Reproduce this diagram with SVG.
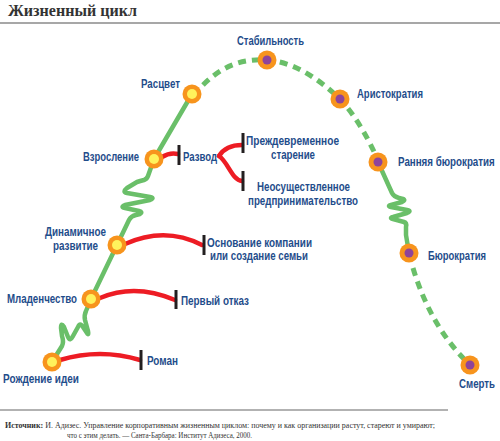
<svg xmlns="http://www.w3.org/2000/svg" width="500" height="441" viewBox="0 0 500 441">
<style>
.lbl{font-family:"Liberation Sans",Arial,sans-serif;font-weight:bold;font-size:12.5px;fill:#1f4d8b}
.g{fill:none;stroke:#6abf69;stroke-width:4.5;stroke-linecap:round;stroke-linejoin:round}
.gd{fill:none;stroke:#6abf69;stroke-width:5;stroke-dasharray:8 6}
.r{fill:none;stroke:#ed1c24;stroke-width:4.5;stroke-linecap:round}
.bar{stroke:#231f20;stroke-width:3}
.ring{fill:#f7941d}
.y{fill:#fff25c}
.p{fill:#8e449a}
.src{font-family:"Liberation Serif","Times New Roman",serif;font-size:8px;fill:#333}
</style>
<rect width="500" height="441" fill="#fff"/>
<text x="8" y="16" font-family="Liberation Serif,serif" font-weight="bold" font-size="17" fill="#333" textLength="129" lengthAdjust="spacingAndGlyphs">Жизненный цикл</text>
<line x1="0" y1="23" x2="500" y2="23" stroke="#8a8a8a" stroke-width="1.5"/>

<g id="connectors">
<path class="g" d="M52,362 L62,346 Q64,342 62,336 L61,328 Q61,322 64,327 L68,337 Q70,342 73,336 L78,327 Q80,322 83,327 L87,333 Q89,336 88,331 L85,320 Q84,315 86,311 L91,299"/>
<line class="g" x1="91" y1="299" x2="117" y2="245"/>
<path class="g" d="M117,245 L129,220 Q131,216 136,215 L140,214 Q143,212 139,211 L125,208 Q120,207 125,205 L150,200 Q155,198 150,197 L127,193 Q122,192 127,188 L137,182 Q140,181 144,180 Q147,179 148,176 L154,159"/>
<line class="g" x1="154" y1="159" x2="192" y2="94"/>
<path class="gd" d="M203,85 C220,68 240,58 267,60 C295,62 320,80 340,99 C355,115 368,138 376,156"/>
<path class="g" d="M378,162 L392,193 Q394,197 399,198 L403,199 Q406,200 402,202 L391,205 Q387,206 391,207 L407,210 Q412,211 407,213 L393,217 Q389,218 393,219 L404,222 Q407,223 406,227 L406,235 L409,253"/>
<path class="gd" d="M413,268 C424,305 442,337 466,361"/>

<path class="r" d="M60,360 Q100,348 140,360"/>
<path class="r" d="M100,298 Q135,283 175,300"/>
<path class="r" d="M125,244 Q165,226 202,245"/>
<path class="r" d="M162,157 Q170,152 178,154"/>
<path class="r" d="M219,156 C224,148 232,145 242,145"/>
<path class="r" d="M219,156 C228,162 232,180 242,181"/>

<line class="bar" x1="141" y1="350" x2="141" y2="370"/>
<line class="bar" x1="176" y1="290" x2="176" y2="309"/>
<line class="bar" x1="204" y1="235" x2="204" y2="255"/>
<line class="bar" x1="179" y1="145" x2="179" y2="165"/>
<line class="bar" x1="243" y1="133" x2="243" y2="153"/>
<line class="bar" x1="243" y1="171" x2="243" y2="191"/>
</g>

<g id="n-rozhdenie"><circle class="ring" cx="52" cy="362" r="9.5"/><circle class="y" cx="52" cy="362" r="5"/>
<text class="lbl" x="3" y="383" textLength="76" lengthAdjust="spacingAndGlyphs">Рождение идеи</text></g>
<g id="n-roman"><text class="lbl" x="147" y="365" textLength="31" lengthAdjust="spacingAndGlyphs">Роман</text></g>
<g id="n-mladenchestvo"><circle class="ring" cx="91" cy="299" r="9.5"/><circle class="y" cx="91" cy="299" r="5"/>
<text class="lbl" x="7" y="303" textLength="70" lengthAdjust="spacingAndGlyphs">Младенчество</text></g>
<g id="n-otkaz"><text class="lbl" x="181" y="305" textLength="68" lengthAdjust="spacingAndGlyphs">Первый отказ</text></g>
<g id="n-dinamichnoe"><circle class="ring" cx="117" cy="245" r="9.5"/><circle class="y" cx="117" cy="245" r="5"/>
<text class="lbl" x="45" y="236" textLength="61" lengthAdjust="spacingAndGlyphs">Динамичное</text>
<text class="lbl" x="53" y="250" textLength="45" lengthAdjust="spacingAndGlyphs">развитие</text></g>
<g id="n-osnovanie"><text class="lbl" x="207" y="247" textLength="105" lengthAdjust="spacingAndGlyphs">Основание компании</text>
<text class="lbl" x="210" y="260" textLength="98" lengthAdjust="spacingAndGlyphs">или создание семьи</text></g>
<g id="n-vzroslenie"><circle class="ring" cx="154" cy="159" r="9.5"/><circle class="y" cx="154" cy="159" r="5"/>
<text class="lbl" x="83" y="161" textLength="56" lengthAdjust="spacingAndGlyphs">Взросление</text></g>
<g id="n-razvod"><text class="lbl" x="183" y="161" textLength="34" lengthAdjust="spacingAndGlyphs">Развод</text></g>
<g id="n-prezhdevremennoe"><text class="lbl" x="246" y="145" textLength="93" lengthAdjust="spacingAndGlyphs">Преждевременное</text>
<text class="lbl" x="271" y="159" textLength="44" lengthAdjust="spacingAndGlyphs">старение</text></g>
<g id="n-neosushchestvlennoe"><text class="lbl" x="257" y="191" textLength="93" lengthAdjust="spacingAndGlyphs">Неосуществленное</text>
<text class="lbl" x="248" y="205" textLength="110" lengthAdjust="spacingAndGlyphs">предпринимательство</text></g>
<g id="n-rascvet"><circle class="ring" cx="192" cy="94" r="9.5"/><circle class="y" cx="192" cy="94" r="5"/>
<text class="lbl" x="141" y="88" textLength="39" lengthAdjust="spacingAndGlyphs">Расцвет</text></g>
<g id="n-stabilnost"><circle class="ring" cx="267" cy="60" r="9.5"/><circle class="p" cx="267" cy="60" r="4.5"/>
<text class="lbl" x="237" y="45" textLength="67" lengthAdjust="spacingAndGlyphs">Стабильность</text></g>
<g id="n-aristokratiya"><circle class="ring" cx="340" cy="99" r="9.5"/><circle class="p" cx="340" cy="99" r="4.5"/>
<text class="lbl" x="357" y="98" textLength="66" lengthAdjust="spacingAndGlyphs">Аристократия</text></g>
<g id="n-rannyaya"><circle class="ring" cx="378" cy="162" r="9.5"/><circle class="p" cx="378" cy="162" r="4.5"/>
<text class="lbl" transform="translate(398,166) scale(0.8,1)" x="0" y="0" textLength="121" lengthAdjust="spacingAndGlyphs">Ранняя бюрократия</text></g>
<g id="n-byurokratiya"><circle class="ring" cx="409" cy="253" r="9.5"/><circle class="p" cx="409" cy="253" r="4.5"/>
<text class="lbl" transform="translate(428,260) scale(0.8,1)" x="0" y="0" textLength="72.5" lengthAdjust="spacingAndGlyphs">Бюрократия</text></g>
<g id="n-smert"><circle class="ring" cx="470" cy="365" r="9.5"/><circle class="p" cx="470" cy="365" r="4.5"/>
<text class="lbl" transform="translate(459,388) scale(0.8,1)" x="0" y="0" textLength="45" lengthAdjust="spacingAndGlyphs">Смерть</text></g>

<line x1="0" y1="410" x2="448" y2="410" stroke="#999" stroke-width="1.5"/>
<text class="src" x="5" y="428" textLength="430" lengthAdjust="spacingAndGlyphs"><tspan font-weight="bold">Источник:</tspan> И. Адизес. Управление корпоративным жизненным циклом: почему и как организации растут, стареют и умирают;</text>
<text class="src" x="67" y="438" textLength="185" lengthAdjust="spacingAndGlyphs">что с этим делать. — Санта-Барбара: Институт Адизеса, 2000.</text>
</svg>
